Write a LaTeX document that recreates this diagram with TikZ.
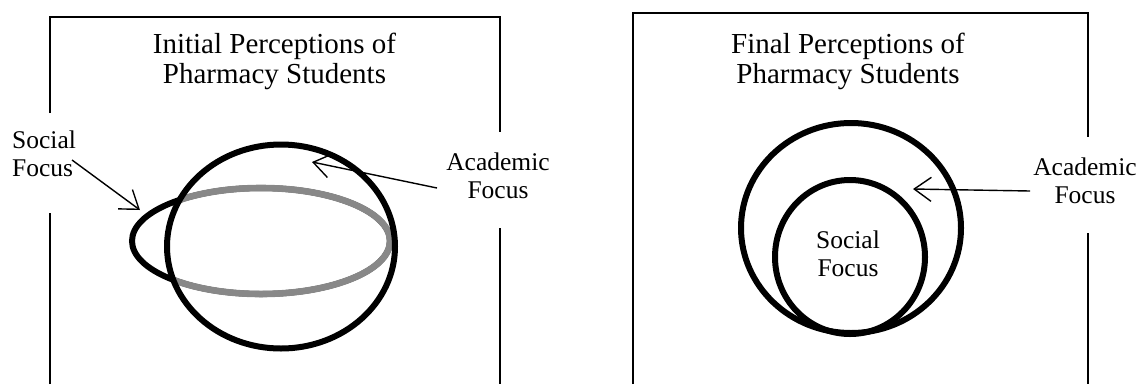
\documentclass[tikz,border=0pt]{standalone}
\usepackage{fontspec}
\setmainfont{Liberation Serif}
\usetikzlibrary{arrows.meta}
\definecolor{ringgrey}{RGB}{136,136,136}
\begin{document}
\begin{tikzpicture}[x=1pt,y=-1pt,
  frame/.style={line width=1.8pt, line join=miter},
  ring/.style={line width=6pt},
  pointer/.style={line width=1.4pt, -{Straight Barb[length=17pt,width=24pt]}},
  title/.style={font=\fontsize{29}{30}\selectfont, align=center, anchor=north, inner sep=0pt},
  lbl/.style={font=\fontsize{25.5}{28}\selectfont, inner sep=0pt, anchor=north}]
\useasboundingbox (0,0) rectangle (1140,384);
% frames
\draw[frame] (50,384) -- (50,213);
\draw[frame] (50,113) -- (50,16.7) -- (500,16.7) -- (500,132);
\draw[frame] (500,228) -- (500,384);
\draw[frame] (633,384) -- (633,13) -- (1088,13) -- (1088,137);
\draw[frame] (1088,233) -- (1088,384);
% titles
\node[title] (t1) at (274.5,33) {Initial Perceptions of\\Pharmacy Students};
\node[title] (t2) at (848,33) {Final Perceptions of\\Pharmacy Students};
% labels
\node[lbl, anchor=north west, align=left] (s1) at (12,130.6) {Social\\Focus};
\node[lbl, align=center] (a1) at (498,152.6) {Academic\\Focus};
\node[lbl, align=center] (a2) at (1085,157.6) {Academic\\Focus};
\node[lbl, align=center] (s2) at (848,230.6) {Social\\Focus};
% left shapes
\draw[ring] (261,241) ellipse [x radius=129pt, y radius=53pt];
\begin{scope}
  \clip (281,246.5) ellipse [x radius=114pt, y radius=102pt];
  \draw[ring, draw=ringgrey, line width=6.6pt] (261,241) ellipse [x radius=129pt, y radius=53pt];
\end{scope}
\draw[ring] (281,246.5) ellipse [x radius=114pt, y radius=102pt];
% right shapes
\draw[ring] (851,228) ellipse [x radius=110pt, y radius=105pt];
\draw[ring] (850,257) ellipse [x radius=75pt, y radius=77pt];
% arrows
\coordinate (sT) at (72,160);
\coordinate (sH) at (140,210);
\coordinate (aT1) at (437,188);
\coordinate (aH1) at (312,162);
\coordinate (aT2) at (1030,191);
\coordinate (aH2) at (913,189);
\draw[pointer] (sT) -- (sH);
\draw[pointer] (aT1) -- (aH1);
\draw[pointer] (aT2) -- (aH2);
\end{tikzpicture}
\end{document}
